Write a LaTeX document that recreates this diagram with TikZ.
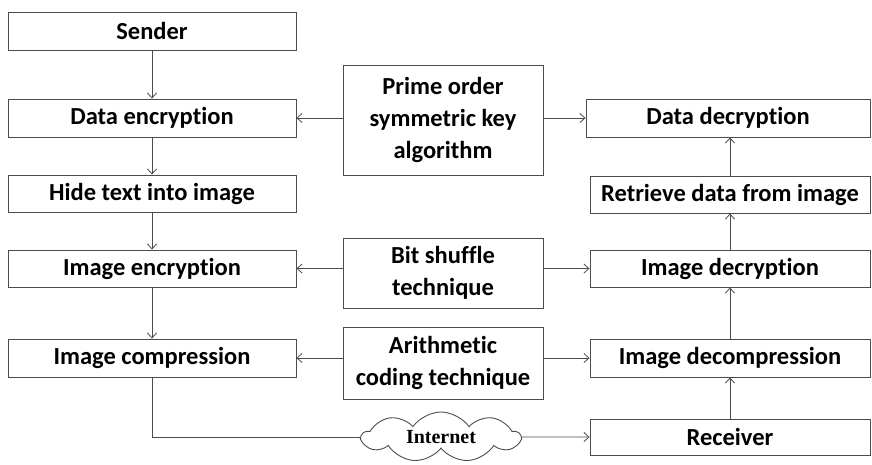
\documentclass[tikz,border=0pt]{standalone}
\usepackage{fontspec}
\setmainfont{Carlito}[Ligatures=NoCommon]
\newfontfamily\netfont{Liberation Serif}
\usepackage{tikz}
\usetikzlibrary{positioning, arrows.meta, shapes.symbols, calc}

\tikzset{
  stagebox/.style={draw=black!70, line width=0.9pt, minimum width=288pt, minimum height=38pt,
    inner sep=0pt, font=\fontsize{24.5}{32}\selectfont\bfseries},
  techbox/.style={draw=black!70, line width=0.9pt, minimum width=200pt, inner sep=0pt,
    align=center, font=\fontsize{24.5}{32}\selectfont\bfseries},
  flow/.style={draw=black!70, line width=0.8pt, -{Straight Barb[length=5pt,width=9pt]}}
}

\begin{document}
\begin{tikzpicture}[x=1pt, y=-1pt]
\useasboundingbox (0,0) rectangle (872,464);

% Sender side
\node[stagebox] (sender) at (152,31) {Sender};
\node[stagebox] (dataenc) at (152,118) {Data encryption};
\node[stagebox, minimum height=37pt] (hide) at (152,193.5) {Hide text into image};
\node[stagebox, minimum height=37pt] (imgenc) at (152,268.5) {Image encryption};
\node[stagebox] (imgcomp) at (152,358) {Image compression};

% Techniques
\node[techbox, minimum height=110pt] (prime) at (443,120) {Prime order\\symmetric key\\algorithm};
\node[techbox, minimum height=70pt] (bitshuf) at (443,273) {Bit shuffle\\technique};
\node[techbox, minimum height=72pt] (arith) at (443,363) {Arithmetic\\coding technique};

% Receiver side
\node[stagebox, minimum width=284pt] (datadec) at (728,118) {Data decryption};
\node[stagebox, minimum width=280pt, minimum height=37pt] (retrieve) at (730,194.5) {Retrieve data from image};
\node[stagebox, minimum width=280pt, minimum height=37pt] (imgdec) at (730,268.5) {Image decryption};
\node[stagebox, minimum width=280pt] (imgdecomp) at (730,358) {Image decompression};
\node[stagebox, minimum width=280pt, minimum height=36pt] (receiver) at (730,437) {Receiver};

% Network
\node[cloud, cloud puffs=9, cloud puff arc=110, cloud ignores aspect, draw=black!70, line width=0.9pt,
  minimum width=158pt, minimum height=50pt, inner sep=0pt,
  font=\fontsize{20}{22}\selectfont\netfont\bfseries] (net) at (441,437) {Internet};

% Sender flow
\draw[flow] (sender) -- (dataenc);
\draw[flow] (dataenc) -- (hide);
\draw[flow] (hide) -- (imgenc);
\draw[flow] (imgenc) -- (imgcomp);

% Receiver flow
\draw[flow] (receiver) -- (imgdecomp);
\draw[flow] (imgdecomp) -- (imgdec);
\draw[flow] (imgdec) -- (retrieve);
\draw[flow] (retrieve.north) -- (retrieve.north |- datadec.south);

% Techniques to both sides
\draw[flow] (prime.west |- dataenc) -- (dataenc.east);
\draw[flow] (prime.east |- datadec) -- (datadec.west);
\draw[flow] (bitshuf.west |- imgenc) -- (imgenc.east);
\draw[flow] (bitshuf.east |- imgdec) -- (imgdec.west);
\draw[flow] (arith.west |- imgcomp) -- (imgcomp.east);
\draw[flow] (arith.east |- imgdecomp) -- (imgdecomp.west);

% Transmission
\draw[draw=black!70, line width=0.8pt] (imgcomp.south) |- (net.west);
\draw[flow] (net.east) -- (receiver.west);
\end{tikzpicture}
\end{document}
